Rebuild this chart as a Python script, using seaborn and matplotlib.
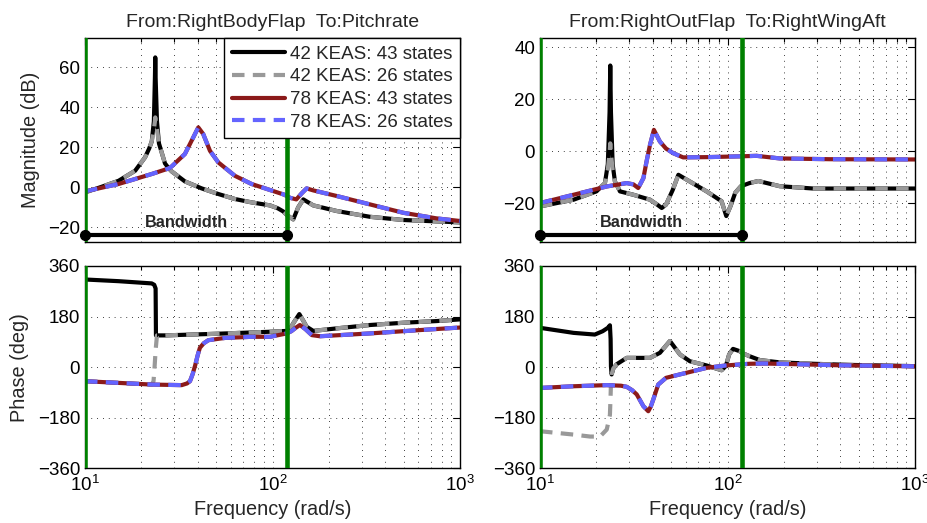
import numpy as np
import pandas as pd
import matplotlib
matplotlib.use("Agg")
import matplotlib.pyplot as plt
import seaborn as sns
from matplotlib.ticker import LogLocator, NullFormatter, FixedLocator

# ---------------- data ----------------
series_labels = ["42 KEAS: 43 states", "42 KEAS: 26 states",
                 "78 KEAS: 43 states", "78 KEAS: 26 states"]
titles = ["From:RightBodyFlap  To:Pitchrate", "From:RightOutFlap  To:RightWingAft"]
bw_lo, bw_hi = 10.0, 119.5

# Top-left magnitude (dB)
tl_f_k = [10, 12, 15.1, 18.5, 20.9, 22.0, 22.7, 23.3, 23.6, 23.7, 23.8, 24.2, 24.8, 26.7, 28, 29,
          34.1, 41.9, 51.4, 63, 77.4, 97, 107, 114, 120, 129, 137, 146, 165, 220, 331, 499, 751, 1000]
tl_m_k = [-2.5, 0, 3.3, 8.3, 15, 19.5, 23, 33, 55, 65, 55, 33, 22, 12, 9.5, 8,
          3, -0.5, -3.3, -5.8, -7.5, -9, -10.5, -12, -14, -16, -10, -6, -9, -11.8, -14.7, -16.3, -17, -17.5]
tl_m_g = [-2.5, 0, 3.3, 8.3, 15, 19.5, 23, 29, 33, 35, 33, 29, 22, 12, 9.5, 8,
          3, -0.5, -3.3, -5.8, -7.5, -9, -10.5, -12, -14, -16, -10, -6, -9, -11.8, -14.7, -16.3, -17, -17.5]
tl_f_r = [10, 15.1, 22.7, 28, 29, 34.1, 37.8, 40.2, 42.7, 46.4, 51.4, 63, 77.4, 97, 116, 124, 134,
          143, 152, 165, 220, 331, 499, 751, 1000]
tl_m_r = [-2, 1.7, 6.7, 9.5, 10.5, 16.7, 25, 30, 26.7, 18.3, 12.5, 5.8, 1.7, -1.3, -3.7, -5.2, -6,
          -3, -0.5, -1.5, -4.3, -8.5, -12.7, -15.5, -16.8]

# Top-right magnitude (dB)
tr_f_k = [10, 15.1, 20, 22.2, 23.0, 23.5, 23.7, 23.9, 24.4, 25.1, 26.7, 31.5, 38.6, 42, 44.6, 47,
          51, 54.7, 63, 77.4, 93, 98.5, 104, 110, 118, 131, 146, 190, 287, 530, 1000]
tr_m_k = [-21.3, -18.7, -15.5, -12.3, -5, 15, 33, 15, -5, -11.7, -15.5, -16.8, -18.7, -20.5, -21.9, -20.6,
          -15, -9.1, -11.7, -15.5, -19.3, -25, -21, -16, -13.5, -12.3, -11.5, -13.5, -14.4, -14.4, -14.4]
tr_m_g = [-21.3, -18.7, -15.5, -12.3, -7, -1, 3, -1, -7, -11.7, -15.5, -16.8, -18.7, -20.5, -21.9, -20.6,
          -15, -9.1, -11.7, -15.5, -19.3, -25, -21, -16, -13.5, -12.3, -11.5, -13.5, -14.4, -14.4, -14.4]
tr_f_r = [10, 15.1, 22.7, 29, 31.5, 33.4, 35.6, 37, 38.6, 40.5, 43.6, 47, 51.4, 58, 77.4, 116, 143,
          190, 352, 1000]
tr_m_r = [-20, -16.8, -13.6, -12.3, -12.8, -14.2, -10.4, -4, 2.4, 8.2, 3.7, 1, -0.8, -2.4, -2.3, -2.0, -1.8,
          -2.8, -3.1, -3.2]

# Bottom-left phase (deg)
bl_f_k = [10, 15.1, 22.7, 23.4, 23.8, 23.9, 26.7, 51.4, 97, 119, 125, 129, 139, 146, 152, 165, 220,
          331, 499, 751, 1000]
bl_p_k = [312, 306, 298, 293, 280, 113, 113, 119, 126, 129, 140, 156, 189, 165, 144, 129, 138,
          150, 158, 164, 170]
bl_f_g = [10, 15.1, 22.7, 23.2, 23.5, 23.8, 24.2, 26.7, 51.4, 97, 119, 125, 129, 139, 146, 152, 165,
          220, 331, 499, 751, 1000]
bl_p_g = [-50, -56, -62, -50, 0, 60, 113, 113, 119, 126, 129, 140, 156, 189, 165, 144, 129,
          138, 150, 158, 164, 170]
bl_f_r = [10, 15.1, 22.7, 32.8, 35, 36.3, 37.5, 38.6, 40, 41, 43, 45.5, 55.8, 77.4, 97, 119, 126,
          133, 140, 150, 162, 179, 331, 612, 1000]
bl_p_r = [-50, -56, -62, -64, -58, -50, -25, 4, 45, 69, 85, 96, 104, 108, 108, 120, 128,
          140, 150, 135, 114, 110, 120, 132, 141]

# Bottom-right phase (deg)
br_f_k = [10, 15.1, 19.6, 21.6, 23.0, 23.6, 23.8, 23.9, 24.1, 24.6, 25.6, 29, 38.6, 43.6, 49.3, 55.8,
          63, 77.4, 87, 93, 98, 102, 107, 116, 121, 131, 149, 190, 287, 450, 1000]
br_p_k = [140, 122, 116, 128, 140, 149, 100, 3, -26, -5, 10, 33, 33, 51, 93, 45,
          21, 6, -5, -11, 4, 45, 65, 57, 49, 39, 25, 17, 12, 8, 3.5]
br_f_g = [10, 15.1, 18.5, 20.9, 22.7, 23.6, 23.8, 23.9, 24.1, 24.6, 25.6, 29, 38.6, 43.6, 49.3, 55.8,
          63, 77.4, 87, 93, 98, 102, 107, 116, 121, 131, 149, 190, 287, 450, 1000]
br_p_g = [-228, -240, -247, -247, -222, -170, -100, -60, -26, -5, 10, 33, 33, 51, 93, 45,
          21, 6, -5, -11, 4, 45, 65, 57, 49, 39, 25, 17, 12, 8, 3.5]
br_f_r = [10, 15.1, 22.7, 27, 29, 31, 32.8, 35.6, 37.8, 39, 40.2, 42.7, 47, 58, 77.4, 98, 131, 155,
          250, 400, 600, 1000]
br_p_r = [-74, -68, -64, -66, -70, -82, -97, -139, -157, -140, -115, -62, -38, -23, -2.5, 6, 12, 13,
          10, 6.5, 5, 3]

# ---------------- style ----------------
sns.set_style("white")
plt.rcParams["font.family"] = ["Liberation Sans", "DejaVu Sans"]
plt.rcParams["mathtext.fontset"] = "custom"
plt.rcParams["mathtext.rm"] = "Liberation Sans"
plt.rcParams["mathtext.it"] = "Liberation Sans:italic"
plt.rcParams["mathtext.bf"] = "Liberation Sans:bold"
plt.rcParams["mathtext.default"] = "regular"

colors = ["black", "#999999", "#8B1A1A", "#6464FF"]
dash = (0, (3, 2))
lstyles = ["-", dash, "-", dash]
green = "#008000"
grid_ls = (0, (1, 6))

fig = plt.figure(figsize=(9.27, 5.23), dpi=100)
xl, xr, w = 85 / 927, 540 / 927, 375 / 927
ax_tl = fig.add_axes([xl, 1 - 242 / 523, w, 204 / 523])
ax_tr = fig.add_axes([xr, 1 - 242 / 523, w, 204 / 523])
ax_bl = fig.add_axes([xl, 1 - 468.3 / 523, w, 202.3 / 523])
ax_br = fig.add_axes([xr, 1 - 468.3 / 523, w, 202.3 / 523])

panels = [
    (ax_tl, [(tl_f_k, tl_m_k), (tl_f_k, tl_m_g), (tl_f_r, tl_m_r), (tl_f_r, tl_m_r)]),
    (ax_tr, [(tr_f_k, tr_m_k), (tr_f_k, tr_m_g), (tr_f_r, tr_m_r), (tr_f_r, tr_m_r)]),
    (ax_bl, [(bl_f_k, bl_p_k), (bl_f_g, bl_p_g), (bl_f_r, bl_p_r), (bl_f_r, bl_p_r)]),
    (ax_br, [(br_f_k, br_p_k), (br_f_g, br_p_g), (br_f_r, br_p_r), (br_f_r, br_p_r)]),
]

for ax, series in panels:
    ax.set_xscale("log")
    ax.set_axisbelow(True)
    for i, (f, v) in enumerate(series):
        df = pd.DataFrame({"f": f, "v": v})
        kw = dict(label=series_labels[i]) if ax is ax_tl else dict(legend=False)
        sns.lineplot(data=df, x="f", y="v", ax=ax, color=colors[i], linewidth=3,
                     linestyle=lstyles[i], sort=False, estimator=None, **kw)
    for xv in (bw_lo, bw_hi):
        ax.axvline(xv, color=green, lw=3.3, zorder=4)
    ax.set_xlim(10, 1000)
    ax.xaxis.set_major_locator(FixedLocator([10, 100, 1000]))
    ax.xaxis.set_minor_locator(LogLocator(base=10, subs=np.arange(2, 10)))
    ax.xaxis.set_minor_formatter(NullFormatter())
    ax.grid(True, which="major", axis="both", color="k", ls=grid_ls, lw=0.6)
    ax.grid(True, which="minor", axis="x", color="k", ls=grid_ls, lw=0.6)
    ax.tick_params(which="both", direction="in", top=True, right=True, labelsize=13.5,
                   width=0.8, colors="k")
    ax.tick_params(which="major", length=5)
    ax.tick_params(which="minor", length=3)
    for s in ax.spines.values():
        s.set_color("k")
        s.set_linewidth(1.0)
    ax.set_xlabel("")
    ax.set_ylabel("")

# magnitude axes
ax_tl.set_ylim(-27.3, 74.7)
ax_tl.set_yticks([-20, 0, 20, 40, 60])
ax_tr.set_ylim(-35, 43.6)
ax_tr.set_yticks([-20, 0, 20, 40])
for ax, ttl, yb, yt in [(ax_tl, titles[0], -23.7, -17.7), (ax_tr, titles[1], -32.4, -27.6)]:
    ax.set_title(ttl, fontsize=14, pad=8)
    ax.tick_params(labelbottom=False)
    ax.plot([bw_lo, bw_hi], [yb, yb], color="black", lw=3, marker="o", ms=7,
            clip_on=False, zorder=6)
    ax.text(np.sqrt(bw_lo * bw_hi), yt, "Bandwidth", ha="center", va="center",
            fontsize=11.7, fontweight="bold", zorder=7)

# phase axes
for ax in (ax_bl, ax_br):
    ax.set_ylim(-360, 360)
    ax.set_yticks([-360, -180, 0, 180, 360])
    ax.tick_params(axis="x", pad=5)
    ax.set_xlabel("Frequency (rad/s)", fontsize=14.3, labelpad=3)

ax_tl.set_ylabel("Magnitude (dB)", fontsize=14.3, labelpad=6)
ax_bl.set_ylabel("Phase (deg)", fontsize=14.3, labelpad=6)

leg = ax_tl.legend(loc="upper right", fontsize=13.5, frameon=True, fancybox=False,
                   edgecolor="k", framealpha=1, borderaxespad=0, borderpad=0.4,
                   labelspacing=0.3, handlelength=2.85, handletextpad=0.25)
leg.get_frame().set_linewidth(1.0)
leg.set_zorder(10)

fig.savefig("out.png", dpi=100)
